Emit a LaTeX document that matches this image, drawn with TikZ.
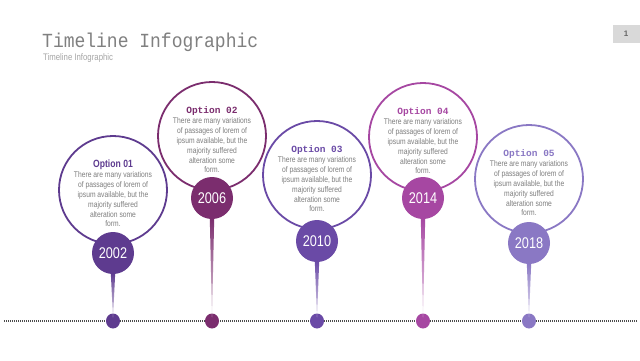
\documentclass[tikz,border=0pt]{standalone}
\usepackage{fontspec}
\setmainfont{Liberation Sans}
\newfontfamily\headfont{Liberation Mono}[FakeStretch=0.9]
\newfontfamily\monofont{Liberation Mono}
\newfontfamily\condfont{Liberation Sans}[FakeStretch=0.82]
\usepackage{tikz}
\usetikzlibrary{shapes.geometric}

\definecolor{optA}{HTML}{5E3B8F}
\definecolor{optB}{HTML}{7B2D6E}
\definecolor{optC}{HTML}{6A4AA6}
\definecolor{optD}{HTML}{A647A2}
\definecolor{optE}{HTML}{8A78C4}
\definecolor{bodygray}{HTML}{7E7E7E}

\tikzset{
	bubble/.style={circle, line width=1.8pt, minimum size=108pt, inner sep=0pt},
	yearball/.style={circle, minimum size=42pt, inner sep=0pt, text=white,
		font=\condfont\fontsize{15.5}{16}\selectfont},
	pindot/.style={ellipse, minimum width=14pt, minimum height=15pt, inner sep=0pt},
	optitle/.style={font=\monofont\bfseries\fontsize{9.5}{10}\selectfont, inner sep=0pt},
	optbody/.style={align=center, text=bodygray, inner sep=0pt,
		font=\condfont\fontsize{8.2}{9.8}\selectfont},
	pagebox/.style={fill=black!15, minimum width=27pt, minimum height=18pt,
		text=black!60, font=\bfseries\fontsize{8}{8}\selectfont}
}

\begin{document}
\begin{tikzpicture}[x=1pt, y=-1pt]
	\useasboundingbox (0,0) rectangle (640,360);
	\fill[white] (0,0) rectangle (640,360);
	\node[anchor=base west, inner sep=0pt, text=black!50, font=\headfont\fontsize{20}{20}\selectfont] (title) at (42,47) {Timeline Infographic};
	\node[anchor=base west, inner sep=0pt, text=black!35, font=\condfont\fontsize{9.5}{10}\selectfont] (subtitle) at (43,60) {Timeline Infographic};
	\node[pagebox] (page) at (626,34) {1};
	\coordinate (L) at (4,321);
	\coordinate (R) at (637,321);
	\draw[black!70, line width=1.2pt, dash pattern=on 1pt off 1pt] (L) -- (R);
	\node[bubble, draw=optA] (B1) at (113,190) {};
	\node[bubble, draw=optB] (B2) at (212,136) {};
	\node[bubble, draw=optC] (B3) at (317,175) {};
	\node[bubble, draw=optD] (B4) at (423,137) {};
	\node[bubble, draw=optE] (B5) at (529,179) {};
	\node[pindot, fill=optA] (D1) at (113,321) {};
	\node[pindot, fill=optB] (D2) at (212,321) {};
	\node[pindot, fill=optC] (D3) at (317,321) {};
	\node[pindot, fill=optD] (D4) at (423,321) {};
	\node[pindot, fill=optE] (D5) at (529,321) {};
	\node[yearball, fill=optA] (Y1) at (113,253) {2002};
	\node[yearball, fill=optB] (Y2) at (212,198) {2006};
	\node[yearball, fill=optC] (Y3) at (317,241) {2010};
	\node[yearball, fill=optD] (Y4) at (423,198) {2014};
	\node[yearball, fill=optE] (Y5) at (529,243) {2018};
	\shade[top color=optA, bottom color=optA!20] ([xshift=-2.2pt,yshift=1pt]Y1.south) -- ([xshift=2.2pt,yshift=1pt]Y1.south) -- ([yshift=-4pt]D1.north) -- cycle;
	\shade[top color=optB, bottom color=optB!20] ([xshift=-2.2pt,yshift=1pt]Y2.south) -- ([xshift=2.2pt,yshift=1pt]Y2.south) -- ([yshift=-4pt]D2.north) -- cycle;
	\shade[top color=optC, bottom color=optC!20] ([xshift=-2.2pt,yshift=1pt]Y3.south) -- ([xshift=2.2pt,yshift=1pt]Y3.south) -- ([yshift=-4pt]D3.north) -- cycle;
	\shade[top color=optD, bottom color=optD!20] ([xshift=-2.2pt,yshift=1pt]Y4.south) -- ([xshift=2.2pt,yshift=1pt]Y4.south) -- ([yshift=-4pt]D4.north) -- cycle;
	\shade[top color=optE, bottom color=optE!20] ([xshift=-2.2pt,yshift=1pt]Y5.south) -- ([xshift=2.2pt,yshift=1pt]Y5.south) -- ([yshift=-4pt]D5.north) -- cycle;
	\path (B1) +(0,-25) node[optitle, text=optA, font=\condfont\bfseries\fontsize{10.5}{11}\selectfont] (T1) {Option 01};
	\path (B2) +(0,-25) node[optitle, text=optB] (T2) {Option 02};
	\path (B3) +(0,-25) node[optitle, text=optC] (T3) {Option 03};
	\path (B4) +(0,-25) node[optitle, text=optD] (T4) {Option 04};
	\path (B5) +(0,-25) node[optitle, text=optE] (T5) {Option 05};
	\path (B1) +(0,9.5) node[optbody] (P1) {There are many variations\\of passages of lorem of\\ipsum available, but the\\majority suffered\\alteration some\\form.};
	\path (B2) +(0,9.5) node[optbody] (P2) {There are many variations\\of passages of lorem of\\ipsum available, but the\\majority suffered\\alteration some\\form.};
	\path (B3) +(0,9.5) node[optbody] (P3) {There are many variations\\of passages of lorem of\\ipsum available, but the\\majority suffered\\alteration some\\form.};
	\path (B4) +(0,9.5) node[optbody] (P4) {There are many variations\\of passages of lorem of\\ipsum available, but the\\majority suffered\\alteration some\\form.};
	\path (B5) +(0,9.5) node[optbody] (P5) {There are many variations\\of passages of lorem of\\ipsum available, but the\\majority suffered\\alteration some\\form.};
\end{tikzpicture}
\end{document}
